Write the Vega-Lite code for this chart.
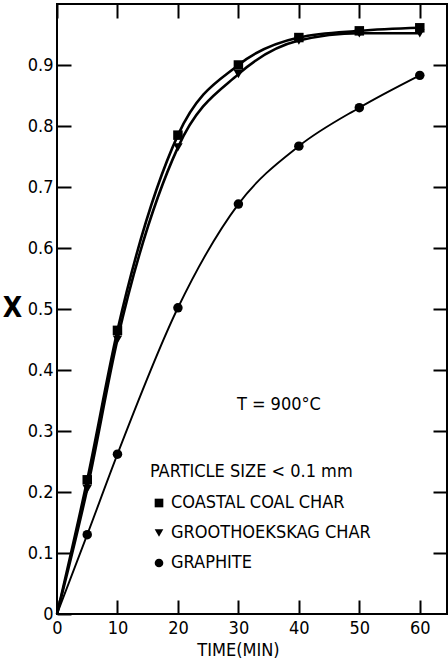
{
  "$schema": "https://vega.github.io/schema/vega-lite/v6.json",
  "autosize": "none",
  "padding": {"left": 57, "top": 4, "right": 1, "bottom": 46},
  "width": 390,
  "height": 610,
  "background": "white",
  "config": {
    "font": "DejaVu Sans Condensed",
    "view": {"stroke": "black", "strokeWidth": 2},
    "axis": {"domain": false, "grid": false, "labelFlush": false, "tickColor": "black", "tickWidth": 2, "labelColor": "black", "titleColor": "black", "labelFont": "DejaVu Sans Condensed", "titleFont": "DejaVu Sans Condensed", "labelFontSize": 18, "titleFontSize": 18, "titleFontWeight": "normal"}
  },
  "data": {"values": [
    {"series": "COASTAL COAL CHAR", "t": 0, "X": 0},
    {"series": "COASTAL COAL CHAR", "t": 5, "X": 0.22},
    {"series": "COASTAL COAL CHAR", "t": 10, "X": 0.465},
    {"series": "COASTAL COAL CHAR", "t": 20, "X": 0.785},
    {"series": "COASTAL COAL CHAR", "t": 30, "X": 0.90},
    {"series": "COASTAL COAL CHAR", "t": 40, "X": 0.945},
    {"series": "COASTAL COAL CHAR", "t": 50, "X": 0.956},
    {"series": "COASTAL COAL CHAR", "t": 60, "X": 0.961},
    {"series": "GROOTHOEKSKAG CHAR", "t": 0, "X": 0},
    {"series": "GROOTHOEKSKAG CHAR", "t": 5, "X": 0.205},
    {"series": "GROOTHOEKSKAG CHAR", "t": 10, "X": 0.45},
    {"series": "GROOTHOEKSKAG CHAR", "t": 20, "X": 0.765},
    {"series": "GROOTHOEKSKAG CHAR", "t": 30, "X": 0.885},
    {"series": "GROOTHOEKSKAG CHAR", "t": 40, "X": 0.94},
    {"series": "GROOTHOEKSKAG CHAR", "t": 50, "X": 0.952},
    {"series": "GROOTHOEKSKAG CHAR", "t": 60, "X": 0.952},
    {"series": "GRAPHITE", "t": 0, "X": 0},
    {"series": "GRAPHITE", "t": 5, "X": 0.13},
    {"series": "GRAPHITE", "t": 10, "X": 0.262},
    {"series": "GRAPHITE", "t": 20, "X": 0.502},
    {"series": "GRAPHITE", "t": 30, "X": 0.672},
    {"series": "GRAPHITE", "t": 40, "X": 0.767},
    {"series": "GRAPHITE", "t": 50, "X": 0.83},
    {"series": "GRAPHITE", "t": 60, "X": 0.883}
  ]},
  "resolve": {"axis": {"x": "independent", "y": "independent"}},
  "layer": [
    {
      "transform": [{"filter": "datum.series != 'GRAPHITE'"}],
      "mark": {"type": "line", "interpolate": "monotone", "color": "black", "strokeWidth": 2.6},
      "encoding": {
        "x": {"field": "t", "type": "quantitative", "scale": {"domain": [0, 64.5], "nice": false, "zero": false},
              "axis": {"orient": "bottom", "values": [0, 10, 20, 30, 40, 50, 60], "tickSize": -14, "labelPadding": 19, "title": "TIME(MIN)", "titleX": 181, "titlePadding": 4}},
        "y": {"field": "X", "type": "quantitative", "scale": {"domain": [0, 1], "nice": false},
              "axis": {"orient": "left", "values": [0, 0.1, 0.2, 0.3, 0.4, 0.5, 0.6, 0.7, 0.8, 0.9], "tickSize": -14, "labelPadding": 18,
                       "labelExpr": "datum.value == 0 ? '0' : format(datum.value, '.1f')",
                       "title": "X", "titleAngle": 0, "titleFontSize": 28, "titleFontWeight": "bold", "titleX": -45, "titleY": 304, "titleAlign": "center", "titleBaseline": "middle"}},
        "detail": {"field": "series"}
      }
    },
    {
      "transform": [{"filter": "datum.series == 'GRAPHITE'"}],
      "mark": {"type": "line", "interpolate": "monotone", "color": "black", "strokeWidth": 1.9},
      "encoding": {
        "x": {"field": "t", "type": "quantitative", "axis": null},
        "y": {"field": "X", "type": "quantitative", "axis": null}
      }
    },
    {
      "transform": [{"filter": "datum.t > 0"}],
      "mark": {"type": "point", "filled": true, "color": "black", "opacity": 1},
      "encoding": {
        "x": {"field": "t", "type": "quantitative", "axis": {"orient": "top", "values": [0, 10, 20, 30, 40, 50, 60], "tickSize": -14, "labels": false, "title": null}},
        "y": {"field": "X", "type": "quantitative", "axis": {"orient": "right", "values": [0.1, 0.2, 0.3, 0.4, 0.5, 0.6, 0.7, 0.8, 0.9], "tickSize": -14, "labels": false, "title": null}},
        "shape": {"field": "series", "type": "nominal",
                  "scale": {"domain": ["COASTAL COAL CHAR", "GROOTHOEKSKAG CHAR", "GRAPHITE"], "range": ["square", "triangle-down", "circle"]},
                  "legend": {"orient": "none", "legendX": 93, "legendY": 459, "title": "PARTICLE SIZE < 0.1 mm",
                             "titleFontSize": 18, "titleFontWeight": "normal", "titleColor": "black", "titleFont": "DejaVu Sans Condensed", "titlePadding": 13, "titleLimit": 400,
                             "labelFontSize": 18, "labelColor": "black", "labelFont": "DejaVu Sans Condensed", "labelOffset": 3, "labelLimit": 400,
                             "symbolFillColor": "black", "symbolStrokeColor": "black", "symbolSize": 75, "rowPadding": 12}},
        "size": {"value": 90}
      }
    },
    {
      "data": {"values": [{}]},
      "mark": {"type": "text", "fontSize": 18, "color": "black", "align": "center", "baseline": "middle", "font": "DejaVu Sans Condensed"},
      "encoding": {
        "x": {"datum": 36.7, "type": "quantitative", "axis": null},
        "y": {"datum": 0.343, "type": "quantitative", "axis": null},
        "text": {"value": "T = 900°C"}
      }
    }
  ]
}
